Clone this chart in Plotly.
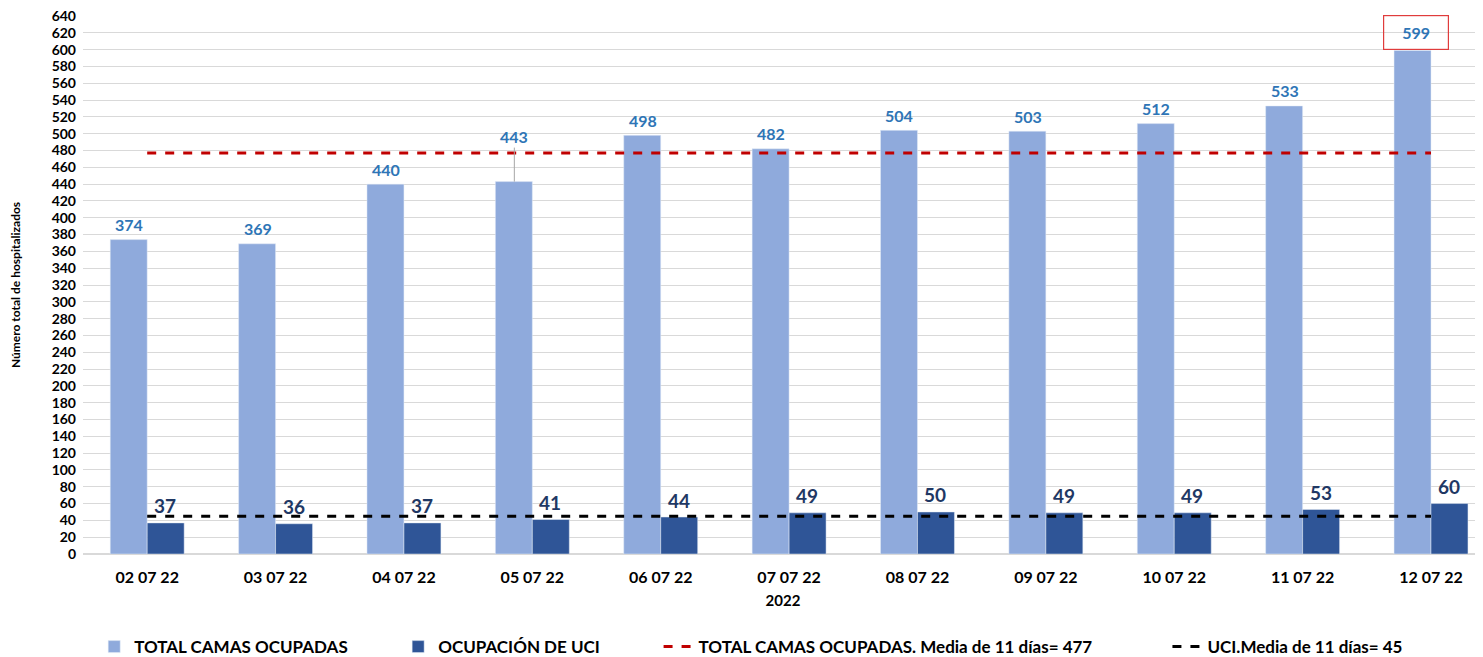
import plotly.graph_objects as go

fechas = ["02 07 22", "03 07 22", "04 07 22", "05 07 22", "06 07 22", "07 07 22",
          "08 07 22", "09 07 22", "10 07 22", "11 07 22", "12 07 22"]
total_camas = [374, 369, 440, 443, 498, 482, 504, 503, 512, 533, 599]
uci = [37, 36, 37, 41, 44, 49, 50, 49, 49, 53, 60]
media_total = 477
media_uci = 45

FONT = "Lato"
C_LIGHT = "#8FAADC"
C_DARK = "#2F5597"
C_LBL_LIGHT = "#2E75B6"
C_LBL_DARK = "#1F3864"
NB = "\u00a0"

fig = go.Figure()
fig.add_trace(go.Bar(x=fechas, y=total_camas, name="TOTAL CAMAS OCUPADAS" + NB * 11,
                     marker=dict(color=C_LIGHT)))
fig.add_trace(go.Bar(x=fechas, y=uci, name="OCUPACIÓN DE UCI" + NB * 13,
                     marker=dict(color=C_DARK)))
fig.add_trace(go.Scatter(
    x=[fechas[0], fechas[-1]], y=[media_total, media_total], mode="lines",
    name=f"TOTAL CAMAS OCUPADAS. Media de 11 días= {media_total}" + NB * 17,
    line=dict(color="#C00000", width=3, dash="dash"),
))
fig.add_trace(go.Scatter(
    x=[fechas[0], fechas[-1]], y=[media_uci, media_uci], mode="lines",
    name=f"UCI.Media de 11 días= {media_uci}",
    line=dict(color="black", width=3, dash="dash"),
))

# data labels
for i, (f, v) in enumerate(zip(fechas, total_camas)):
    font = dict(family=FONT, size=16, color=C_LBL_LIGHT, weight="bold")
    if i == 3:
        # lifted label with leader line
        fig.add_annotation(x=f, y=v, text=str(v), xshift=-18, showarrow=True,
                           arrowhead=0, arrowwidth=1, arrowcolor="#A6A6A6",
                           ax=0, ay=-34, yanchor="bottom", font=font)
    elif i == len(fechas) - 1:
        # boxed in red
        fig.add_annotation(x=f, y=v, text=str(v), xshift=-15, yshift=18,
                           showarrow=False, width=50, borderpad=7,
                           bordercolor="#E03C3C", borderwidth=1.2, font=font)
    else:
        fig.add_annotation(x=f, y=v, text=str(v), xshift=-18, yshift=15,
                           showarrow=False, font=font)
for f, v in zip(fechas, uci):
    fig.add_annotation(x=f, y=v, text=str(v), xshift=18, yshift=17, showarrow=False,
                       font=dict(family=FONT, size=19, color=C_LBL_DARK, weight="bold"))

# page body has an 8px margin, so the figure is sized/offset to compensate
fig.update_layout(
    barmode="group", bargap=0.424, bargroupgap=0,
    width=1475, height=649,
    margin=dict(l=75, r=0, t=8, b=103, autoexpand=False),
    plot_bgcolor="white", paper_bgcolor="white",
    font=dict(family=FONT, color="#000000", weight="bold"),
    legend=dict(orientation="h", x=0.008, y=-0.173, xanchor="left", yanchor="middle",
                font=dict(family=FONT, size=17, weight="bold"),
                itemwidth=30, traceorder="normal"),
)
fig.update_yaxes(
    range=[0, 640], dtick=20, showgrid=True, gridcolor="#D9D9D9", gridwidth=1,
    zeroline=True, zerolinecolor="#D9D9D9", automargin=False,
    tickfont=dict(family=FONT, size=14, weight="bold"), ticks="", ticklabelstandoff=6,
    ticklabeloverflow="allow",
    title=dict(text="Número total de hospitalizados", standoff=30,
               font=dict(family=FONT, size=12, weight="bold")),
)
fig.update_xaxes(
    range=[-0.5, 10.405], automargin=False,
    tickfont=dict(family=FONT, size=16, weight="bold"), ticks="",
    title=dict(text="2022", standoff=10, font=dict(family=FONT, size=15, weight="bold")),
    ticklabelstandoff=12,
)

fig.write_html("out.html")
